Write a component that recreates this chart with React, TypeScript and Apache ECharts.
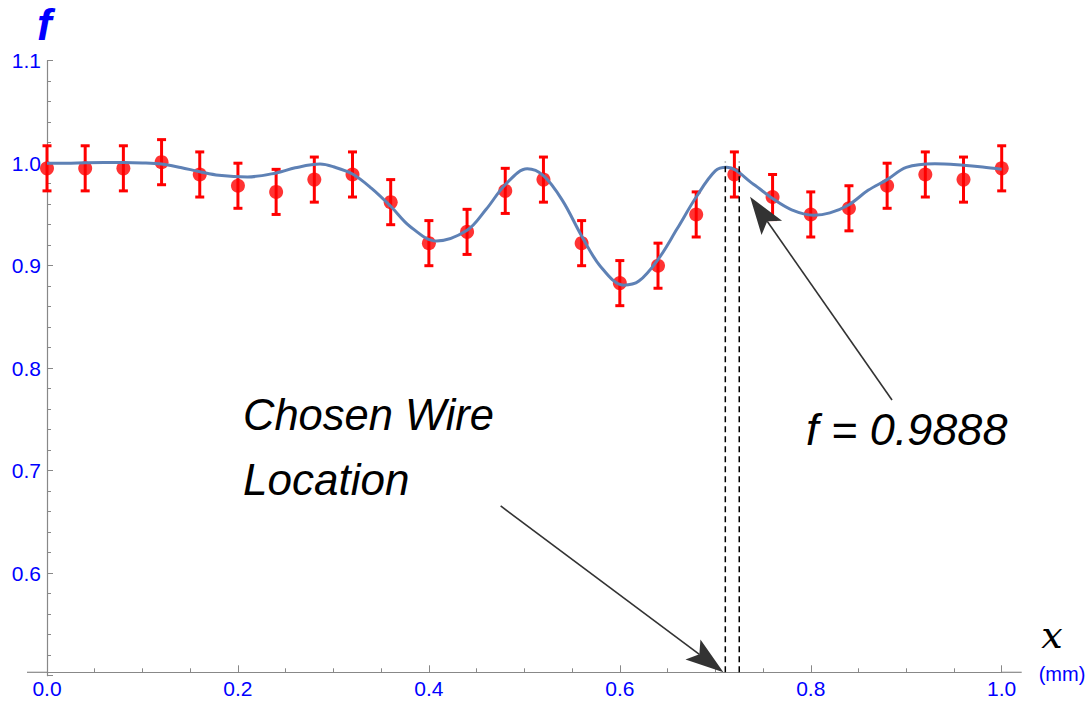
import React, { useEffect, useRef } from 'react';
import * as echarts from 'echarts';

// measured points (x in mm, f value, error half-width)
const pointX = [0, 0.04, 0.08, 0.12, 0.16, 0.2, 0.24, 0.28, 0.32, 0.36, 0.4, 0.44, 0.48, 0.52, 0.56, 0.6, 0.64, 0.68, 0.72, 0.76, 0.8, 0.84, 0.88, 0.92, 0.96, 1.0];
const pointF = [0.995, 0.995, 0.995, 1.001, 0.989, 0.978, 0.972, 0.984, 0.989, 0.962, 0.922, 0.933, 0.973, 0.984, 0.922, 0.883, 0.9, 0.95, 0.989, 0.967, 0.95, 0.956, 0.978, 0.989, 0.984, 0.995];
const pointErr = [0.022, 0.022, 0.022, 0.022, 0.022, 0.022, 0.022, 0.022, 0.022, 0.022, 0.022, 0.022, 0.022, 0.022, 0.022, 0.022, 0.022, 0.022, 0.022, 0.022, 0.022, 0.022, 0.022, 0.022, 0.022, 0.022];

// fitted curve (extra readings at the turning points)
const fitX = [0, 0.02, 0.04, 0.06, 0.08, 0.1, 0.12, 0.14, 0.16, 0.18, 0.21, 0.24, 0.26, 0.286, 0.3, 0.32, 0.34, 0.36, 0.38, 0.408, 0.44, 0.46, 0.48, 0.503, 0.52, 0.54, 0.56, 0.58, 0.604, 0.62, 0.64, 0.66, 0.68, 0.7, 0.712, 0.74, 0.76, 0.78, 0.803, 0.82, 0.84, 0.86, 0.88, 0.9, 0.93, 0.96, 0.98, 1.0];
const fitF = [1.0, 1.0, 1.0004, 1.0006, 1.0006, 1.0003, 0.9992, 0.9958, 0.9917, 0.9882, 0.9866, 0.9905, 0.9955, 0.9991, 0.9965, 0.9895, 0.9755, 0.958, 0.9385, 0.924, 0.9345, 0.955, 0.979, 0.9945, 0.9878, 0.9635, 0.929, 0.899, 0.881, 0.885, 0.906, 0.936, 0.967, 0.9925, 0.996, 0.9795, 0.9655, 0.9545, 0.9493, 0.9515, 0.9595, 0.9735, 0.984, 0.996, 0.9995, 0.998, 0.9963, 0.994];

// chosen wire location bracket
const wireX = [0.7105, 0.7251];
const wireYRange = [0.5033, 1.0015];

// axis ranges and tick steps
const yMin = 0.5;
const yMax = 1.1;
const yStep = 0.1;
const xMin = 0;
const xMax = 1.0;
const xStep = 0.2;

const AXIS = '#888888';
const BLUE = '#0000ff';

export default function App() {
  const ref = useRef<HTMLDivElement>(null);

  useEffect(() => {
    const chart = echarts.init(ref.current!, null, { renderer: 'svg' });
    const option: any = {
      animation: false,
      grid: { left: 47, right: 87.3, top: 60.7, bottom: 29.3 },
      xAxis: {
        type: 'value',
        min: xMin,
        max: xMax,
        interval: xStep,
        offset: -3.4,
        splitLine: { show: false },
        axisLine: { show: true, lineStyle: { color: AXIS, width: 1.2 } },
        axisTick: { show: true, inside: true, length: 7, lineStyle: { color: AXIS } },
        minorTick: { show: true, splitNumber: 4, length: 4, lineStyle: { color: AXIS } },
        axisLabel: {
          color: BLUE,
          fontSize: 21,
          fontFamily: 'Liberation Sans',
          margin: 6,
          formatter: (v: number) => v.toFixed(1),
        },
      },
      yAxis: {
        type: 'value',
        min: yMin,
        max: yMax,
        interval: yStep,
        splitLine: { show: false },
        axisLine: { show: true, onZero: false, lineStyle: { color: AXIS, width: 1.2 } },
        axisTick: { show: true, inside: true, length: 6, lineStyle: { color: AXIS } },
        minorTick: { show: true, splitNumber: 5, length: 4, lineStyle: { color: AXIS } },
        axisLabel: {
          color: BLUE,
          fontSize: 21,
          fontFamily: 'Liberation Sans',
          margin: 6,
          formatter: (v: number) => (Math.abs(v - 0.5) < 1e-9 ? '' : v.toFixed(1)),
        },
      },
      series: [
        {
          type: 'custom',
          name: 'errors',
          clip: false,
          z: 2,
          data: pointX.map((x, i) => [x, pointF[i], pointErr[i]]),
          encode: { x: 0, y: 1 },
          renderItem: (params: any, api: any) => {
            const x = api.value(0);
            const y = api.value(1);
            const e = api.value(2);
            const top = api.coord([x, y + e]);
            const bot = api.coord([x, y - e]);
            const c = 4.5;
            const st = { stroke: '#ff0000', lineWidth: 3 };
            return {
              type: 'group',
              children: [
                { type: 'line', shape: { x1: top[0], y1: top[1], x2: bot[0], y2: bot[1] }, style: st },
                { type: 'line', shape: { x1: top[0] - c, y1: top[1], x2: top[0] + c, y2: top[1] }, style: st },
                { type: 'line', shape: { x1: bot[0] - c, y1: bot[1], x2: bot[0] + c, y2: bot[1] }, style: st },
              ],
            };
          },
        },
        {
          type: 'scatter',
          name: 'measured',
          clip: false,
          z: 3,
          symbol: 'circle',
          symbolSize: 14,
          itemStyle: { color: '#ff0000' },
          data: pointX.map((x, i) => [x, pointF[i]]),
        },
        {
          type: 'line',
          name: 'fit',
          clip: false,
          z: 4,
          smooth: 0.35,
          showSymbol: false,
          symbol: 'none',
          lineStyle: { color: '#5E81B5', width: 3 },
          data: fitX.map((x, i) => [x, fitF[i]]),
        },
        ...wireX.map((wx) => ({
          type: 'line',
          name: 'wire',
          clip: false,
          z: 5,
          showSymbol: false,
          symbol: 'none',
          lineStyle: { color: '#000000', width: 1.5, type: [6, 4] },
          data: [
            [wx, wireYRange[0]],
            [wx, wireYRange[1]],
          ],
        })),
      ],
    };
    chart.setOption(option);

    const toPx = (p: number[]) => chart.convertToPixel({ gridIndex: 0 }, p) as number[];

    const arrow = (tailD: number[], tipD: number[]) => {
      const T = toPx(tailD);
      const P = toPx(tipD);
      const dx = P[0] - T[0];
      const dy = P[1] - T[1];
      const len = Math.sqrt(dx * dx + dy * dy);
      const ux = dx / len;
      const uy = dy / len;
      const nx = -uy;
      const ny = ux;
      const L = 38;
      const W = 12.5;
      const notch = 8;
      const B = [P[0] - ux * L, P[1] - uy * L];
      const N = [P[0] - ux * (L - notch), P[1] - uy * (L - notch)];
      return [
        {
          type: 'line',
          shape: { x1: T[0], y1: T[1], x2: N[0], y2: N[1] },
          style: { stroke: '#333333', lineWidth: 1.6 },
          z: 10,
        },
        {
          type: 'polygon',
          shape: {
            points: [
              [P[0], P[1]],
              [B[0] + nx * W, B[1] + ny * W],
              [N[0], N[1]],
              [B[0] - nx * W, B[1] - ny * W],
            ],
          },
          style: { fill: '#333333' },
          z: 10,
        },
      ];
    };

    const axisY = toPx([0, yMin])[1] - 3.4;
    const x0 = toPx([xMin, yMin])[0];
    const x1 = toPx([xMax, yMin])[0];

    const graphic: any[] = [
      {
        type: 'line',
        shape: { x1: x0 - 20, y1: axisY, x2: x0, y2: axisY },
        style: { stroke: AXIS, lineWidth: 1.2 },
      },
      {
        type: 'line',
        shape: { x1: x1, y1: axisY, x2: x1 + 20, y2: axisY },
        style: { stroke: AXIS, lineWidth: 1.2 },
      },
      ...arrow([0.4752, 0.6656], [wireX[0] - 0.002, wireYRange[0]]),
      ...arrow([0.8851, 0.769], [0.7364, 0.9673]),
      {
        type: 'text',
        x: 37,
        y: 24,
        style: {
          text: 'f',
          fill: BLUE,
          font: 'italic bold 44px "Liberation Sans"',
          textAlign: 'left',
          textVerticalAlign: 'middle',
        },
      },
      {
        type: 'text',
        x: 1052,
        y: 635,
        style: {
          text: 'x',
          fill: '#000000',
          font: 'italic 38px "DejaVu Serif"',
          textAlign: 'center',
          textVerticalAlign: 'middle',
        },
      },
      {
        type: 'text',
        x: 1062,
        y: 674,
        style: {
          text: '(mm)',
          fill: BLUE,
          font: '20px "Liberation Sans"',
          textAlign: 'center',
          textVerticalAlign: 'middle',
        },
      },
      {
        type: 'text',
        x: 243,
        y: 415,
        style: {
          text: 'Chosen Wire',
          fill: '#000000',
          font: 'italic 43.5px "Liberation Sans"',
          textAlign: 'left',
          textVerticalAlign: 'middle',
        },
      },
      {
        type: 'text',
        x: 243,
        y: 479,
        style: {
          text: 'Location',
          fill: '#000000',
          font: 'italic 44px "Liberation Sans"',
          textAlign: 'left',
          textVerticalAlign: 'middle',
        },
      },
      {
        type: 'text',
        x: 806,
        y: 429,
        style: {
          text: 'f = 0.9888',
          fill: '#000000',
          font: 'italic 45px "Liberation Sans"',
          textAlign: 'left',
          textVerticalAlign: 'middle',
        },
      },
    ];
    chart.setOption({ graphic });

    return () => chart.dispose();
  }, []);

  return (
    <div
      ref={ref}
      style={{ position: 'absolute', left: 0, top: 0, width: 1089, height: 705, background: '#ffffff' }}
    />
  );
}
